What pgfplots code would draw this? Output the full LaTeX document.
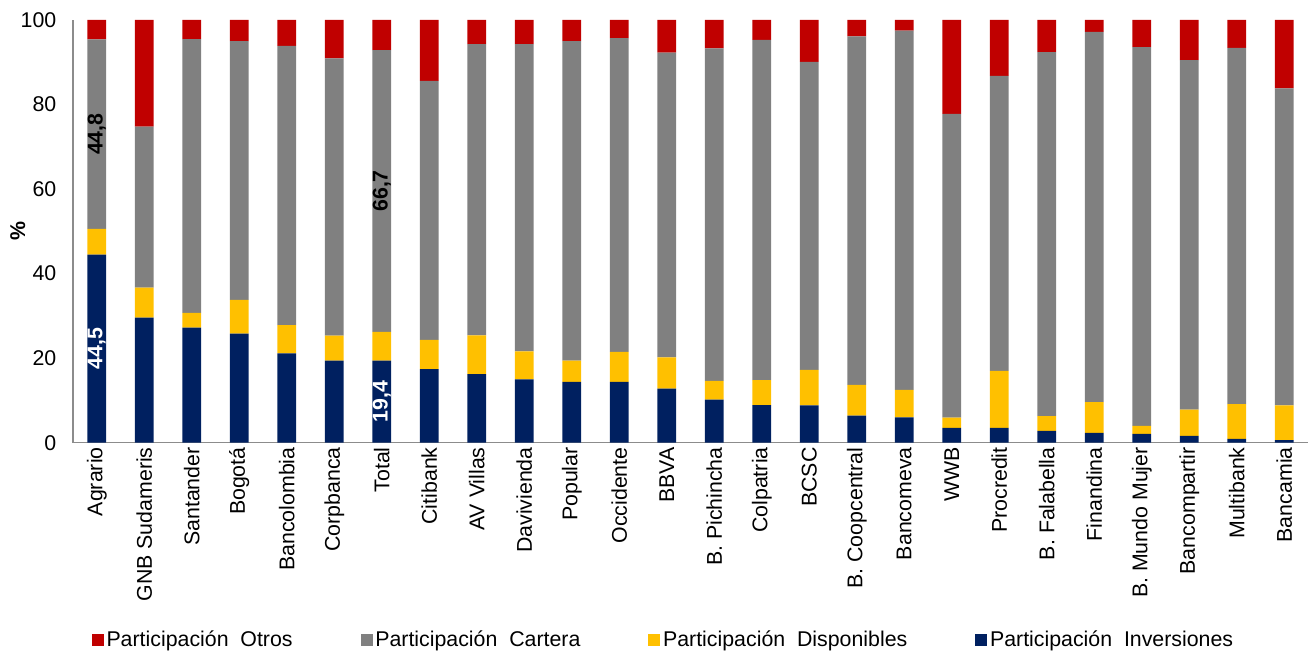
\documentclass[border=0pt]{standalone}
\usepackage{pgfplots}
\usepackage{pgfplotstable}
\pgfplotsset{compat=1.18}
\usepackage{fontspec}
\setmainfont{Liberation Sans}
\definecolor{cInv}{HTML}{002060}
\definecolor{cDisp}{HTML}{FFC000}
\definecolor{cCart}{HTML}{808080}
\definecolor{cOtros}{HTML}{C00000}
\definecolor{axgray}{HTML}{8C8C8C}

\pgfplotstableread{
x inv disp cart otros
0 44.5 6.1 44.8 4.6
1 29.6 7.1 38.1 25.2
2 27.2 3.5 64.8 4.5
3 25.8 8.0 61.2 5.0
4 21.1 6.7 66.1 6.1
5 19.4 5.9 65.6 9.1
6 19.4 6.8 66.7 7.1
7 17.4 6.9 61.3 14.4
8 16.2 9.2 68.9 5.7
9 15.0 6.6 72.7 5.7
10 14.4 5.0 75.6 5.0
11 14.4 7.1 74.2 4.3
12 12.8 7.4 72.1 7.7
13 10.2 4.4 78.7 6.7
14 8.9 5.9 80.5 4.7
15 8.8 8.4 72.9 9.9
16 6.4 7.3 82.4 3.9
17 6.0 6.5 85.0 2.5
18 3.5 2.4 71.9 22.2
19 3.5 13.5 69.8 13.2
20 2.8 3.5 86.1 7.6
21 2.3 7.3 87.6 2.8
22 2.1 1.9 89.6 6.4
23 1.6 6.2 82.7 9.5
24 0.9 8.2 84.3 6.6
25 0.6 8.2 75.0 16.2
}\datatable

\newcommand{\fs}{\fontsize{16}{19}\selectfont}

\begin{document}
\begin{tikzpicture}
\pgfplotsset{
  base/.style={
    scale only axis,
    width=926.25pt, height=317pt,
    xmin=-0.5, xmax=25.5,
    ymin=0, ymax=100,
  }
}
\begin{axis}[
  base,
  name=ax,
  ybar stacked,
  bar width=14pt,
  axis x line*=bottom,
  axis y line*=left,
  axis line style={draw=axgray, line width=1.2pt, -},
  tick style={draw=none},
  xtick=data,
  xticklabels={Agrario,GNB Sudameris,Santander,Bogotá,Bancolombia,Corpbanca,Total,Citibank,AV Villas,Davivienda,Popular,Occidente,BBVA,B. Pichincha,Colpatria,BCSC,B. Coopcentral,Bancomeva,WWB,Procredit,B. Falabella,Finandina,B. Mundo Mujer,Bancompartir,Multibank,Bancamia},
  xticklabel style={rotate=90, anchor=east, font=\fs, yshift=0pt},
  ytick={0,20,40,60,80,100},
  yticklabel style={font=\fs, xshift=-9pt},
  /pgf/number format/assume math mode=true,
  ylabel={\textbf{\%}},
  every axis y label/.style={at={(axis description cs:0,0.5)}, anchor=center, xshift=-41.5pt, rotate=90, font=\fs},
  legend columns=4,
  reverse legend,
  legend cell align=left,
  legend style={draw=none, font=\fs, at={(axis description cs:0.5,0)}, anchor=center, xshift=-20pt, yshift=-148pt,
    /tikz/every even column/.append style={column sep=49pt}},
  legend image code/.code={\fill[#1] (0pt,-4.5pt) rectangle (9pt,4.5pt);},
]
\addplot[fill=cInv, draw=none] table[x=x, y=inv] {\datatable};
\addlegendentry{Participación\ \ Inversiones}
\addplot[fill=cDisp, draw=none] table[x=x, y=disp] {\datatable};
\addlegendentry{Participación\ \ Disponibles}
\addplot[fill=cCart, draw=none] table[x=x, y=cart] {\datatable};
\addlegendentry{Participación\ \ Cartera}
\addplot[fill=cOtros, draw=none] table[x=x, y=otros] {\datatable};
\addlegendentry{Participación\ \ Otros}
\end{axis}
\begin{axis}[
  base,
  hide axis,
  point meta=explicit symbolic,
  nodes near coords,
  every node near coord/.append style={anchor=center, rotate=90, font=\fs\bfseries},
]
\addplot[only marks, mark=none, every node near coord/.append style={text=white}] coordinates {(0,22.25) [44,5] (6,9.7) [19,4]};
\addplot[only marks, mark=none, every node near coord/.append style={text=black}] coordinates {(0,73.0) [44,8] (6,59.55) [66,7]};
\end{axis}
\pgfresetboundingbox
\path ([shift={(-54.75pt,-157pt)}]ax.south west) rectangle ([shift={(2.25pt,15pt)}]ax.north east);
\end{tikzpicture}
\end{document}
